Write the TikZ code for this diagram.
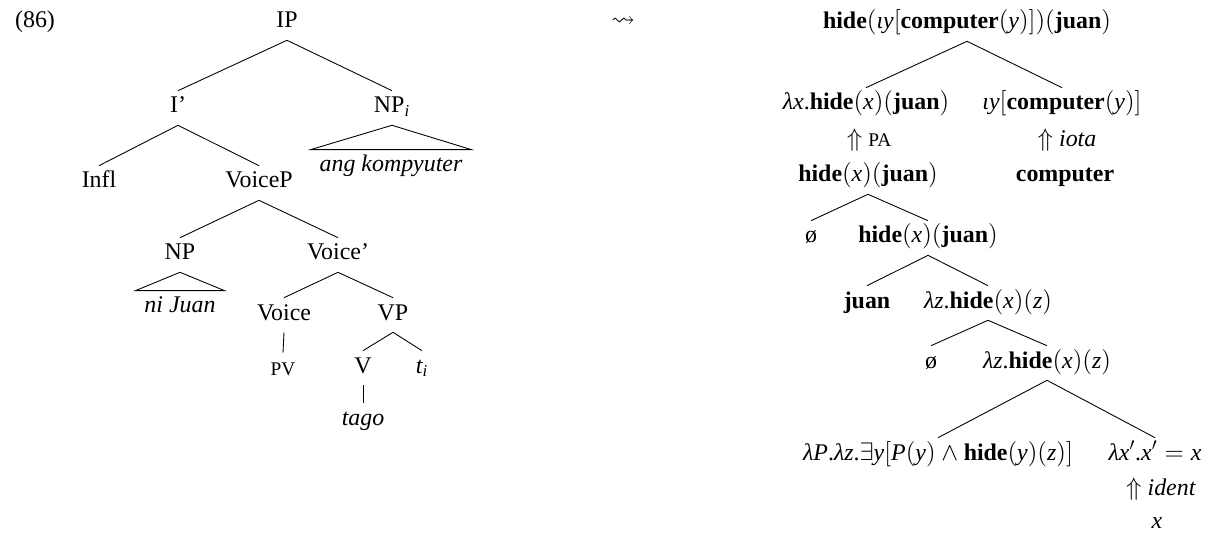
\documentclass[tikz,border=0pt]{standalone}
\usepackage{amssymb}
\usepackage{fontspec}
\setmainfont{Liberation Serif}
\DeclareSymbolFont{tletters}{TU}{\rmdefault}{m}{it}
\DeclareSymbolFont{tupright}{TU}{\rmdefault}{m}{n}
\DeclareMathSymbol{x}{\mathalpha}{tletters}{`x}
\DeclareMathSymbol{y}{\mathalpha}{tletters}{`y}
\DeclareMathSymbol{z}{\mathalpha}{tletters}{`z}
\DeclareMathSymbol{P}{\mathalpha}{tletters}{`P}
\DeclareMathSymbol{t}{\mathalpha}{tletters}{`t}
\DeclareMathSymbol{i}{\mathalpha}{tletters}{`i}
\DeclareMathSymbol{(}{\mathopen}{tupright}{`(}
\DeclareMathSymbol{)}{\mathclose}{tupright}{`)}
\DeclareMathSymbol{[}{\mathopen}{tupright}{`[}
\DeclareMathSymbol{]}{\mathclose}{tupright}{`]}
\DeclareMathSymbol{.}{\mathord}{tupright}{`.}
\DeclareMathSymbol{=}{\mathrel}{tupright}{`=}
\newcommand{\lam}{\mathord{\textit{λ}}}
\newcommand{\iot}{\mathord{\textit{ι}}}

\begin{document}
\begin{tikzpicture}[
        x=0.02cm,
        y=-0.02cm,
        every node/.style={
            anchor=base,
            inner sep=0pt,
            text height=12.5pt,
            text depth=6.8pt,
            font=\fontsize{13.6}{16}\selectfont
        },
        roof/.style={inner xsep=5pt},
        small caps/.style={font=\fontsize{11}{13}\selectfont},
        edge/.style={draw=black, line width=0.5pt}
    ]
    \useasboundingbox (0,0) rectangle (1209,533);

    \node (ex) at (35,28) {(86)};
    \node (ip) at (287,28) {IP};
    \node (ibar) at (178,113) {I'};
    \node (npi) at (392,113) {NP$_i$};
    \node[roof] (ang) at (391,172) {\textit{ang kompyuter}};
    \node (infl) at (99,188) {Infl};
    \node (voicep) at (259,188) {VoiceP};
    \node (np) at (180,260) {NP};
    \node (voicebar) at (338,260) {Voice'};
    \node[roof] (nijuan) at (180,313) {\textit{ni Juan}};
    \node (voice) at (284,320) {Voice};
    \node (vp) at (393,320) {VP};
    \node[small caps] (pv) at (283,375) {PV};
    \node (v) at (363,373) {V};
    \node (ti) at (422,373) {$t_i$};
    \node (tago) at (363,425) {\textit{tago}};

    \draw[edge] (ip.south) -- (ibar.north);
    \draw[edge] (ip.south) -- (npi.north);
    \draw[edge] (npi.south) -- (ang.north west) -- (ang.north east) -- cycle;
    \draw[edge] (ibar.south) -- (infl.north);
    \draw[edge] (ibar.south) -- (voicep.north);
    \draw[edge] (voicep.south) -- (np.north);
    \draw[edge] (voicep.south) -- (voicebar.north);
    \draw[edge] (np.south) -- (nijuan.north west) -- (nijuan.north east) -- cycle;
    \draw[edge] (voicebar.south) -- (voice.north);
    \draw[edge] (voicebar.south) -- (vp.north);
    \draw[edge] (voice.south) -- (pv.north);
    \draw[edge] (vp.south) -- (v.north);
    \draw[edge] (vp.south) -- (ti.north);
    \draw[edge] (v.south) -- (tago.north);

    \node (squig) at (623,27) {$\rightsquigarrow$};

    \node (top) at (967,29) {$\textbf{hide}(\iot y[\textbf{computer}(y)])(\textbf{juan})$};
    \node (lx) at (866,110) {$\lam x.\textbf{hide}(x)(\textbf{juan})$};
    \node (iy) at (1062,110) {$\iot y[\textbf{computer}(y)]$};
    \node (pa) at (869,147) {$\Uparrow$ {\fontsize{11}{13}\selectfont PA}};
    \node (iota) at (1067,147) {$\Uparrow$ \textit{iota}};
    \node (hxj) at (868,182) {$\textbf{hide}(x)(\textbf{juan})$};
    \node (comp) at (1065,182) {\textbf{computer}};
    \node (nulla) at (811,243) {ø};
    \node (hxjb) at (928,243) {$\textbf{hide}(x)(\textbf{juan})$};
    \node (juan) at (867,308) {\textbf{juan}};
    \node (lz) at (988,308) {$\lam z.\textbf{hide}(x)(z)$};
    \node (nullb) at (931,368) {ø};
    \node (lzb) at (1047,368) {$\lam z.\textbf{hide}(x)(z)$};
    \node (lp) at (938,460) {$\lam P.\lam z.\exists y[P(y)\wedge\textbf{hide}(y)(z)]$};
    \node (lxp) at (1155,460) {$\lam x'.x'=x$};
    \node (ident) at (1161,495) {$\Uparrow$ \textit{ident}};
    \node (xv) at (1157,528) {$x$};

    \draw[edge] (top.south) -- (lx.north);
    \draw[edge] (top.south) -- (iy.north);
    \draw[edge] (hxj.south) -- (nulla.north);
    \draw[edge] (hxj.south) -- (hxjb.north);
    \draw[edge] (hxjb.south) -- (juan.north);
    \draw[edge] (hxjb.south) -- (lz.north);
    \draw[edge] (lz.south) -- (nullb.north);
    \draw[edge] (lz.south) -- (lzb.north);
    \draw[edge] (lzb.south) -- (lp.north);
    \draw[edge] (lzb.south) -- (lxp.north);
\end{tikzpicture}
\end{document}
